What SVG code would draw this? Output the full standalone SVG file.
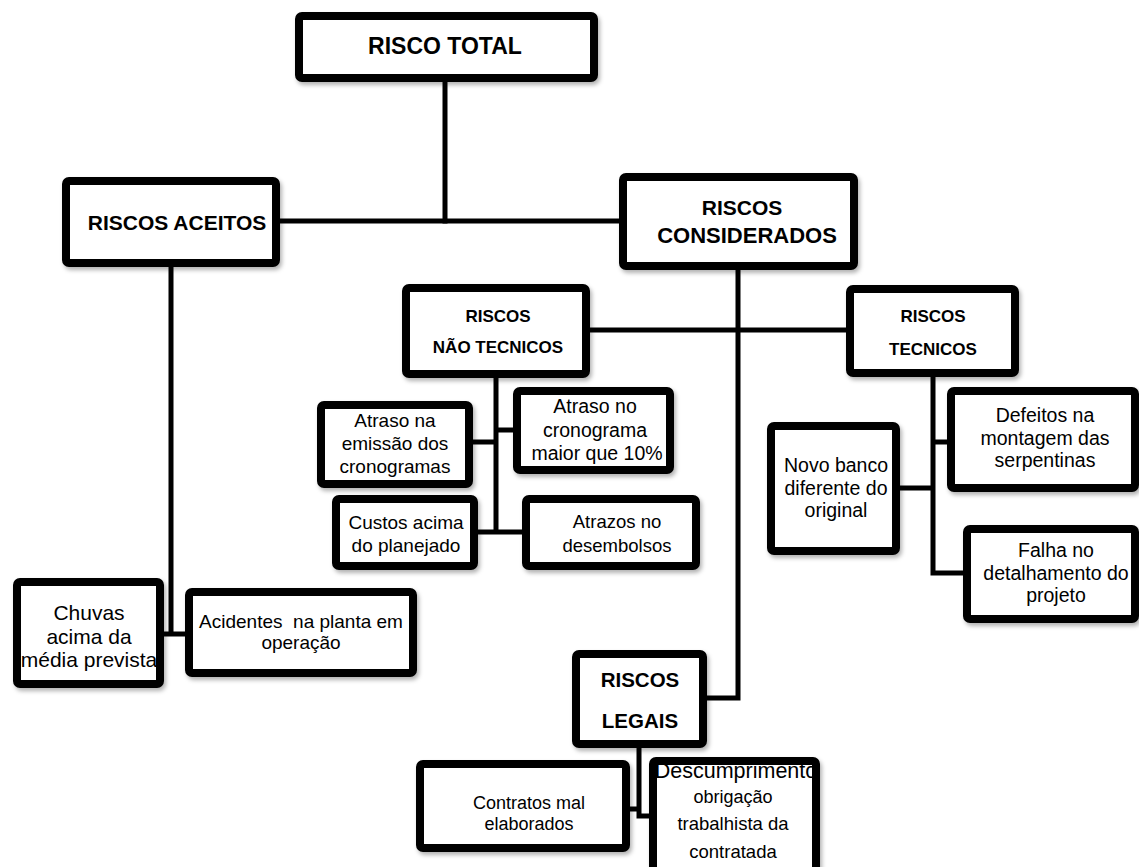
<svg xmlns="http://www.w3.org/2000/svg" width="1139" height="867" viewBox="0 0 1139 867">
  <style>
    .box { fill: #ffffff; stroke: #000000; stroke-width: 8; filter: url(#shadow); }
    .wire { fill: none; stroke: #000000; stroke-width: 5; stroke-linejoin: miter; stroke-linecap: square; }
    .head { font-family: "Liberation Sans", Arial, sans-serif; font-weight: bold; fill: #000000; text-anchor: middle; }
    .body { font-family: "Liberation Sans", Arial, sans-serif; fill: #000000; text-anchor: middle; }
  </style>
  <defs>
    <filter id="shadow" x="-10%" y="-10%" width="130%" height="140%">
      <feDropShadow dx="2" dy="3" stdDeviation="2" flood-color="#000000" flood-opacity="0.3"/>
    </filter>
  </defs>

  <rect width="1139" height="867" fill="#ffffff"/>

  <!-- connectors -->
  <g id="connectors">
    <path class="wire" d="M445,82 V221"/>
    <path class="wire" d="M280,221 H619"/>
    <path class="wire" d="M171,267 V634 M164,634 H185"/>
    <path class="wire" d="M738,270 V698 H707"/>
    <path class="wire" d="M590,330 H846"/>
    <path class="wire" d="M496,378 V532 M473,442 H496 M496,430 H513 M478,532 H522"/>
    <path class="wire" d="M933,377 V573 H963 M933,442 H947 M900,488 H933"/>
    <path class="wire" d="M639,748 V816 H649 M630,809 H639"/>
  </g>

  <g id="risco-total">
    <rect class="box" x="299" y="16" width="295" height="62" rx="3"/>
    <text class="head" x="445" y="54" font-size="23">RISCO TOTAL</text>
  </g>

  <g id="riscos-aceitos">
    <rect class="box" x="66" y="181" width="210" height="82" rx="3"/>
    <text class="head" x="177" y="230" font-size="21">RISCOS ACEITOS</text>
  </g>

  <g id="riscos-considerados">
    <rect class="box" x="623" y="177" width="231" height="89" rx="3"/>
    <text class="head" x="742" y="215" font-size="21">RISCOS</text>
    <text class="head" x="747" y="243" font-size="22">CONSIDERADOS</text>
  </g>

  <g id="riscos-nao-tecnicos">
    <rect class="box" x="406" y="288" width="180" height="86" rx="3"/>
    <text class="head" x="498" y="322" font-size="17">RISCOS</text>
    <text class="head" x="498" y="353" font-size="17">NÃO TECNICOS</text>
  </g>

  <g id="riscos-tecnicos">
    <rect class="box" x="850" y="289" width="165" height="84" rx="3"/>
    <text class="head" x="933" y="322" font-size="17">RISCOS</text>
    <text class="head" x="933" y="355" font-size="17">TECNICOS</text>
  </g>

  <g id="atraso-emissao">
    <rect class="box" x="321" y="405" width="148" height="79" rx="3"/>
    <text class="body" x="395" y="427" font-size="19">Atraso na</text>
    <text class="body" x="395" y="450" font-size="19">emissão dos</text>
    <text class="body" x="395" y="473" font-size="19">cronogramas</text>
  </g>

  <g id="atraso-cronograma">
    <rect class="box" x="517" y="391" width="153" height="79" rx="3"/>
    <text class="body" x="595" y="413" font-size="19.5">Atraso no</text>
    <text class="body" x="595" y="437" font-size="19.5">cronograma</text>
    <text class="body" x="597" y="460" font-size="19.5">maior que 10%</text>
  </g>

  <g id="custos">
    <rect class="box" x="336" y="499" width="138" height="67" rx="3"/>
    <text class="body" x="406" y="529" font-size="19">Custos acima</text>
    <text class="body" x="406" y="552" font-size="19">do planejado</text>
  </g>

  <g id="atrazos-desembolsos">
    <rect class="box" x="526" y="499" width="170" height="67" rx="3"/>
    <text class="body" x="617" y="528" font-size="18.5">Atrazos no</text>
    <text class="body" x="617" y="552" font-size="18.5">desembolsos</text>
  </g>

  <g id="defeitos">
    <rect class="box" x="951" y="391" width="184" height="97" rx="3"/>
    <text class="body" x="1045" y="422" font-size="19.5">Defeitos na</text>
    <text class="body" x="1045" y="445" font-size="19.5">montagem das</text>
    <text class="body" x="1045" y="467" font-size="19.5">serpentinas</text>
  </g>

  <g id="novo-banco">
    <rect class="box" x="771" y="426" width="125" height="125" rx="3"/>
    <text class="body" x="836" y="472" font-size="19.5">Novo banco</text>
    <text class="body" x="836" y="495" font-size="19.5">diferente do</text>
    <text class="body" x="836" y="517" font-size="19.5">original</text>
  </g>

  <g id="falha-detalhamento">
    <rect class="box" x="967" y="529" width="168" height="90" rx="3"/>
    <text class="body" x="1056" y="557" font-size="19.5">Falha no</text>
    <text class="body" x="1056" y="580" font-size="19.5">detalhamento do</text>
    <text class="body" x="1056" y="602" font-size="19.5">projeto</text>
  </g>

  <g id="chuvas">
    <rect class="box" x="17" y="582" width="143" height="102" rx="3"/>
    <text class="body" x="89" y="620" font-size="21">Chuvas</text>
    <text class="body" x="89" y="644" font-size="21">acima da</text>
    <text class="body" x="89" y="667" font-size="21">média prevista</text>
  </g>

  <g id="acidentes">
    <rect class="box" x="189" y="592" width="224" height="81" rx="3"/>
    <text class="body" x="301" y="628" font-size="19" style="white-space:pre">Acidentes  na planta em</text>
    <text class="body" x="301" y="649" font-size="19">operação</text>
  </g>

  <g id="riscos-legais">
    <rect class="box" x="576" y="654" width="127" height="90" rx="3"/>
    <text class="head" x="640" y="687" font-size="20.5">RISCOS</text>
    <text class="head" x="640" y="728" font-size="20.5">LEGAIS</text>
  </g>

  <g id="contratos">
    <rect class="box" x="420" y="764" width="206" height="84" rx="3"/>
    <text class="body" x="529" y="809" font-size="18">Contratos mal</text>
    <text class="body" x="529" y="830" font-size="18">elaborados</text>
  </g>

  <g id="descumprimento">
    <rect class="box" x="653" y="761" width="163" height="110" rx="3"/>
    <text class="body" x="736" y="778" font-size="21.5">Descumprimento</text>
    <text class="body" x="733" y="803" font-size="18">obrigação</text>
    <text class="body" x="733" y="830" font-size="18.5">trabalhista da</text>
    <text class="body" x="733" y="858" font-size="18.5">contratada</text>
  </g>
</svg>
